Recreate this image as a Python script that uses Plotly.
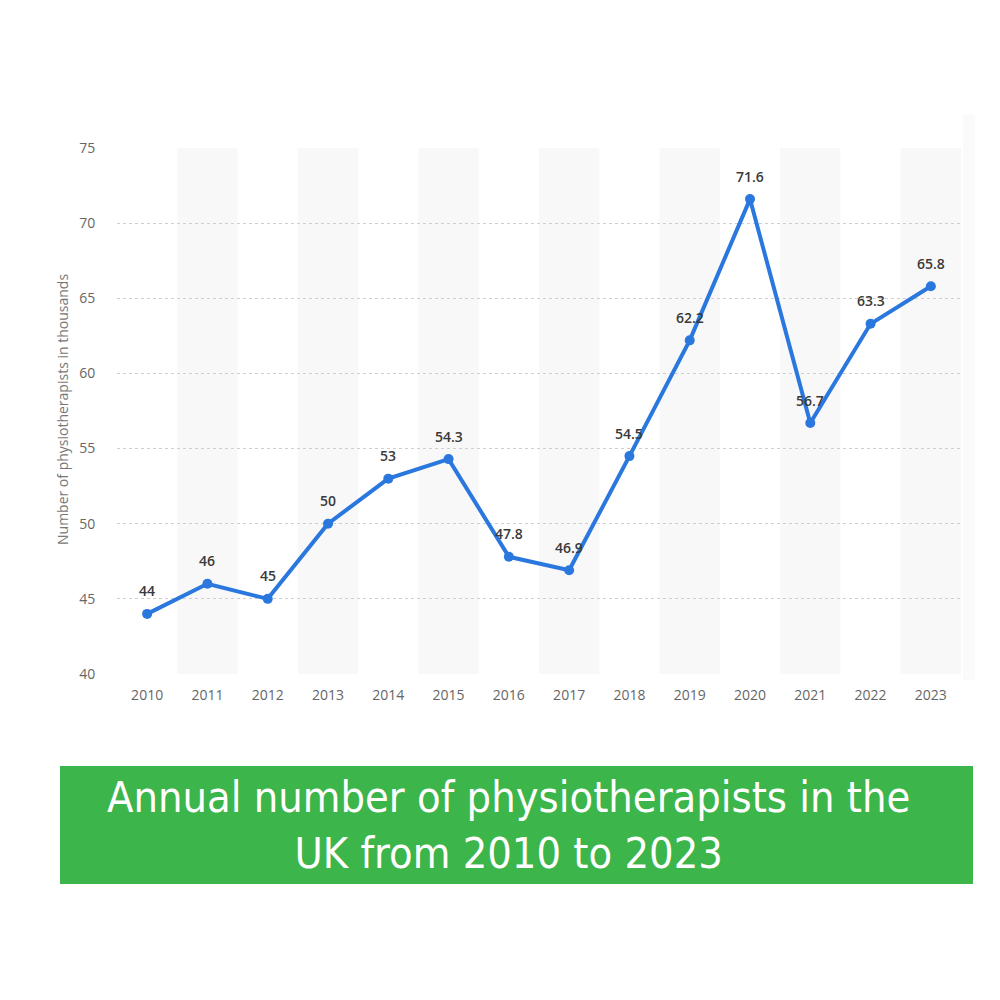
import plotly.graph_objects as go

years = ["2010", "2011", "2012", "2013", "2014", "2015", "2016",
         "2017", "2018", "2019", "2020", "2021", "2022", "2023"]
physios = [44, 46, 45, 50, 53, 54.3, 47.8, 46.9, 54.5, 62.2, 71.6, 56.7, 63.3, 65.8]
labels = ["44", "46", "45", "50", "53", "54.3", "47.8", "46.9", "54.5",
          "62.2", "71.6", "56.7", "63.3", "65.8"]
y_ticks = [40, 45, 50, 55, 60, 65, 70, 75]

title_text = "Annual number of physiotherapists in the<br>UK from 2010 to 2023"
y_title = "Number of physiotherapists in thousands"

# plot area in figure pixels (page is offset by the 8px body margin)
L, R, T, B = 109, 953, 140, 666
PW, PH = R - L, B - T


def px_x(x):
    return (x - L) / PW


def px_y(y):
    return (B - y) / PH


fig = go.Figure()
fig.add_trace(
    go.Scatter(
        x=list(range(len(years))),
        y=physios,
        mode="lines+markers",
        line=dict(color="#2a77de", width=4),
        marker=dict(color="#2a77de", size=10),
        cliponaxis=False,
        showlegend=False,
    )
)

shapes = []
for i in range(len(years)):
    if i % 2 == 1:
        shapes.append(dict(type="rect", xref="x", yref="paper", x0=i - 0.5, x1=i + 0.5,
                           y0=0, y1=1, fillcolor="#f8f8f8", line_width=0, layer="below"))

# faint shadow at the right edge of the chart card
shapes.append(dict(type="rect", xref="paper", yref="paper",
                   x0=px_x(955), x1=px_x(967), y0=px_y(672), y1=px_y(107),
                   fillcolor="#fafafa", line_width=0, layer="below"))

# green title box
shapes.append(dict(type="rect", xref="paper", yref="paper",
                   x0=px_x(52), x1=px_x(965), y0=px_y(876), y1=px_y(758),
                   fillcolor="#3cb54a", line_width=0))

annotations = [
    dict(x=i, y=v, text=t, xref="x", yref="y", showarrow=False, yshift=23,
         font=dict(family="Open Sans", size=14, color="#3a3a3a", weight=600))
    for i, (v, t) in enumerate(zip(physios, labels))
]
annotations += [
    dict(text=title_text, xref="paper", yref="paper",
         x=px_x(500), y=px_y(817), showarrow=False,
         xanchor="center", yanchor="middle", align="center",
         font=dict(family="DejaVu Sans Condensed", size=43, color="white")),
    dict(text=y_title, xref="paper", yref="paper", x=px_x(54), y=px_y(402),
         textangle=-90, showarrow=False, xanchor="center", yanchor="middle",
         font=dict(family="Open Sans", size=14, color="#777777")),
]

fig.update_layout(
    width=1000,
    height=1000,
    margin=dict(l=L, r=1000 - R, t=T, b=1000 - B),
    plot_bgcolor="white",
    paper_bgcolor="white",
    font=dict(family="Open Sans", color="#666666"),
    shapes=shapes,
    annotations=annotations,
)
fig.update_xaxes(
    tickmode="array",
    tickvals=list(range(len(years))),
    ticktext=years,
    range=[-0.5, len(years) - 0.5],
    showgrid=False,
    zeroline=False,
    showline=False,
    ticks="outside",
    ticklen=8,
    tickcolor="rgba(0,0,0,0)",
    tickfont=dict(family="Open Sans", size=14, color="#666666"),
)
fig.update_yaxes(
    range=[40, 75],
    tickvals=y_ticks,
    showgrid=True,
    gridcolor="#cfcfcf",
    griddash="dot",
    gridwidth=1,
    zeroline=False,
    showline=False,
    ticks="outside",
    ticklen=18,
    tickcolor="rgba(0,0,0,0)",
    tickfont=dict(family="Open Sans", size=14, color="#666666"),
)

fig.write_html("out.html")
